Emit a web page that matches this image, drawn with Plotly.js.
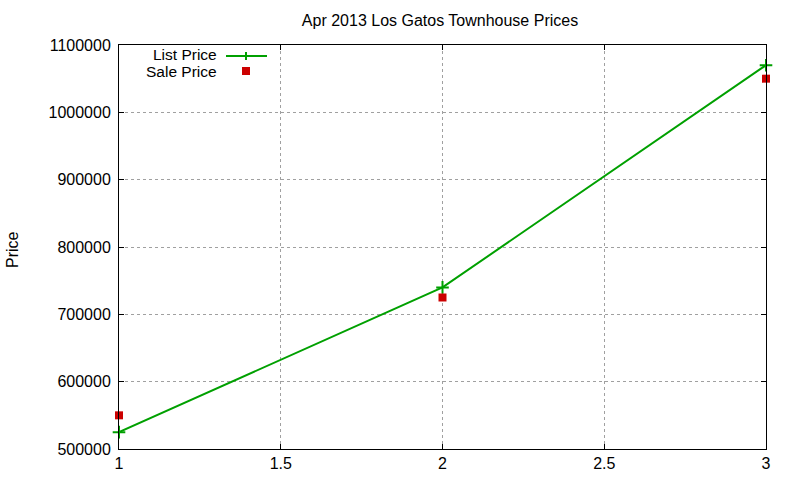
<!DOCTYPE html>
<html><head><meta charset="utf-8">
<script src="https://cdn.plot.ly/plotly-3.0.1.min.js"></script>
<style>html,body{margin:0;padding:0;background:#fff}#chart{width:800px;height:480px}</style>
</head><body><div id="chart"></div>
<script>
var xValues = [1, 2, 3];
var listPrice = [525000, 740000, 1070000];
var salePrice = [550000, 725000, 1050000];
var seriesNames = ["List Price", "Sale Price"];
var yTicks = [500000, 600000, 700000, 800000, 900000, 1000000, 1100000];
var xTicks = [1, 1.5, 2, 2.5, 3];

var green = '#00a000', red = '#cc0000';
var traces = [
  {x: xValues, y: listPrice, name: seriesNames[0], type: 'scatter', mode: 'lines+markers',
   line: {color: green, width: 2}, marker: {symbol: 'cross-thin', size: 9, color: green, line: {color: green, width: 2}},
   cliponaxis: false, showlegend: false},
  {x: xValues, y: salePrice, name: seriesNames[1], type: 'scatter', mode: 'markers',
   marker: {symbol: 'square', size: 8, color: red}, cliponaxis: false, showlegend: false}
];
var font = {family: 'Liberation Sans, Arial, sans-serif', size: 16, color: '#000'};
var legFont = {family: 'Liberation Sans, Arial, sans-serif', size: 15.5, color: '#000'};
var W = 647, H = 404, L = 119, T = 45;
function px(x) { return (x - L) / W; }
function py(y) { return (T + H - y) / H; }
var layout = {
  width: 800, height: 480,
  margin: {l: L, r: 800 - L - W, t: T, b: 480 - T - H},
  paper_bgcolor: '#fff', plot_bgcolor: '#fff',
  font: font,
  title: {text: 'Apr 2013 Los Gatos Townhouse Prices', x: 440 / 800, xanchor: 'center', y: 1 - 20 / 480, yanchor: 'middle', font: font},
  xaxis: {range: [1, 3], tickvals: xTicks, ticktext: xTicks.map(String), showline: true, linecolor: '#000', linewidth: 1,
          mirror: 'ticks', ticks: 'inside', ticklen: 5, tickcolor: '#000', showgrid: true, gridcolor: '#a0a0a0', griddash: 'dot', gridwidth: 1,
          zeroline: false, tickfont: font, ticklabelstandoff: 0},
  yaxis: {range: [500000, 1100000], tickvals: yTicks, ticktext: yTicks.map(String), showline: true, linecolor: '#000', linewidth: 1,
          mirror: 'ticks', ticks: 'inside', ticklen: 5, tickcolor: '#000', showgrid: true, gridcolor: '#a0a0a0', griddash: 'dot', gridwidth: 1,
          zeroline: false, tickfont: font, ticklabelstandoff: 4},
  annotations: [
    {xref: 'paper', yref: 'paper', x: px(12), y: py(250), xanchor: 'center', yanchor: 'middle', textangle: -90, text: 'Price', showarrow: false, font: font},
    {xref: 'paper', yref: 'paper', x: px(218), y: py(54.5), xanchor: 'right', yanchor: 'middle', text: seriesNames[0], showarrow: false, font: legFont, borderpad: 0},
    {xref: 'paper', yref: 'paper', x: px(218), y: py(71.5), xanchor: 'right', yanchor: 'middle', text: seriesNames[1], showarrow: false, font: legFont, borderpad: 0}
  ],
  shapes: [
    {type: 'line', xref: 'paper', yref: 'paper', x0: px(226), x1: px(267), y0: py(56), y1: py(56), line: {color: green, width: 2}},
    {type: 'line', xref: 'paper', yref: 'paper', x0: px(246), x1: px(246), y0: py(52), y1: py(60), line: {color: green, width: 2}},
    {type: 'rect', xref: 'paper', yref: 'paper', x0: px(242), x1: px(250), y0: py(67), y1: py(75), line: {width: 0}, fillcolor: red}
  ]
};
Plotly.newPlot('chart', traces, layout, {displayModeBar: false, staticPlot: true});
</script></body></html>
